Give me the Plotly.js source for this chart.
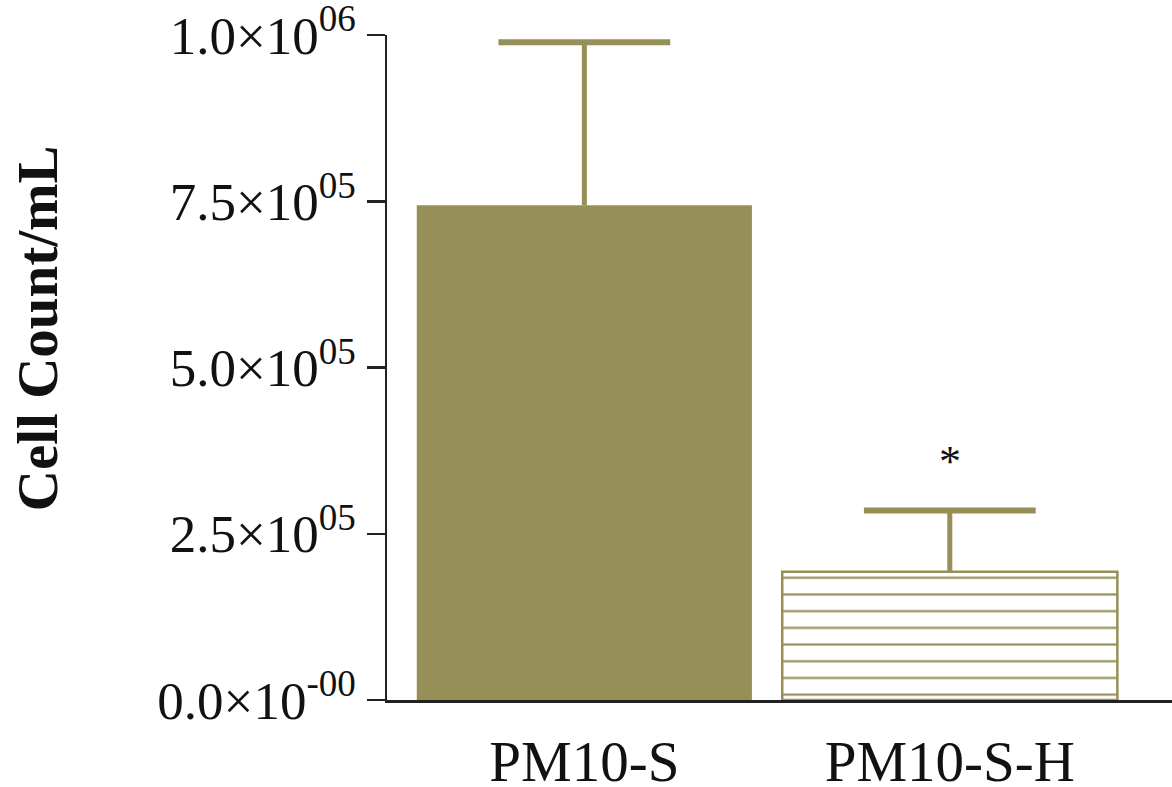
<!DOCTYPE html>
<html>
<head>
<meta charset="utf-8">
<script src="https://cdn.plot.ly/plotly-3.0.1.min.js"></script>
<style>html,body{margin:0;padding:0;background:#fff;}#chart{width:1172px;height:787px;}</style>
</head>
<body>
<div id="chart"></div>
<script>
// Data
const categories = ["PM10-S", "PM10-S-H"];
const means = [744000, 193000];
const errorsPlus = [245000, 92000];
const yTickVals = [0, 250000, 500000, 750000, 1000000];
const yTickText = ["0.0×10<sup>-00</sup>", "2.5×10<sup>05</sup>", "5.0×10<sup>05</sup>", "7.5×10<sup>05</sup>", "1.0×10<sup>06</sup>"];
const significance = ["", "*"];
const significanceY = [null, 359000];

const olive = "rgb(150,143,88)";
const serif = "'Liberation Serif', 'DejaVu Serif', serif";
const positions = categories.map((c, i) => i);
const barWidth = 0.917;
const capHalf = 0.235;

const traces = [
  {
    type: "bar",
    x: [positions[0]],
    y: [means[0]],
    width: barWidth,
    marker: {color: olive, line: {color: olive, width: 0}},
    showlegend: false,
    hoverinfo: "skip"
  },
  {
    type: "bar",
    x: [positions[1]],
    y: [means[1]],
    width: barWidth,
    marker: {
      color: "white",
      line: {color: olive, width: 2.5},
      pattern: {shape: "-", fgcolor: olive, bgcolor: "white", size: 16.7, solidity: 0.13}
    },
    showlegend: false,
    hoverinfo: "skip"
  }
];

// error bars: stem + cap (upper only), built from the data arrays
positions.forEach((p, i) => {
  const top = means[i] + errorsPlus[i];
  traces.push({
    type: "scatter", mode: "lines",
    x: [p, p], y: [means[i], top],
    line: {color: olive, width: 5},
    showlegend: false, hoverinfo: "skip"
  });
  traces.push({
    type: "scatter", mode: "lines",
    x: [p - capHalf, p + capHalf], y: [top, top],
    line: {color: olive, width: 6},
    showlegend: false, hoverinfo: "skip"
  });
});

const annotations = [];
categories.forEach((c, i) => {
  if (significance[i]) {
    annotations.push({x: positions[i], y: significanceY[i], xref: "x", yref: "y", text: significance[i], showarrow: false,
      font: {family: serif, size: 44, color: "#111"}});
  }
});
annotations.push({
  xref: "paper", yref: "paper", x: -0.4459, y: 0.559, xanchor: "center", yanchor: "middle",
  text: "<b>Cell Count/mL</b>", textangle: -90, showarrow: false,
  font: {family: serif, size: 57, color: "#111"}
});

const layout = {
  width: 1172, height: 787,
  margin: {l: 387, r: 0, t: 35, b: 87},
  paper_bgcolor: "white", plot_bgcolor: "white",
  xaxis: {
    range: [-0.540, 1.608],
    showline: true, linecolor: "#222", linewidth: 2.5,
    ticks: "", showgrid: false, zeroline: false,
    tickvals: positions, ticktext: categories,
    ticklabelstandoff: 10,
    tickfont: {family: serif, size: 57, color: "#111"}
  },
  yaxis: {
    range: [0, 1000000],
    showline: true, linecolor: "#222", linewidth: 2.5,
    ticks: "outside", ticklen: 18, tickwidth: 2.5, tickcolor: "#222",
    tickvals: yTickVals, ticktext: yTickText,
    ticklabeloverflow: "allow",
    showgrid: false, zeroline: false,
    tickfont: {family: serif, size: 53, color: "#111"}
  },
  annotations: annotations
};

Plotly.newPlot("chart", traces, layout, {displayModeBar: false, staticPlot: true});
</script>
</body>
</html>
